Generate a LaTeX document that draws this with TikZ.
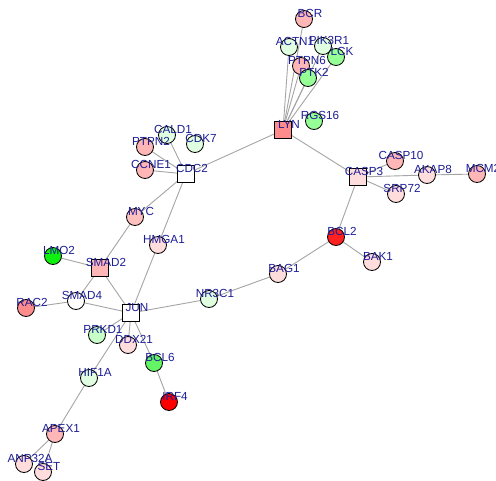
\documentclass[tikz,border=0pt]{standalone}
\usepackage{fontspec}
\setmainfont{Liberation Sans}
\pgfdeclarelayer{background}
\pgfsetlayers{background,main}
\definecolor{lblcol}{RGB}{30,30,150}
\definecolor{edgecol}{RGB}{165,165,165}
\definecolor{pinkA}{RGB}{255,182,182}
\definecolor{pinkB}{RGB}{255,221,221}
\definecolor{pinkC}{RGB}{255,192,192}
\definecolor{salmon}{RGB}{255,140,140}
\definecolor{redA}{RGB}{255,32,32}
\definecolor{redB}{RGB}{255,0,0}
\definecolor{greenA}{RGB}{224,255,224}
\definecolor{greenB}{RGB}{200,255,200}
\definecolor{greenC}{RGB}{150,255,150}
\definecolor{greenD}{RGB}{100,245,100}
\definecolor{greenE}{RGB}{16,240,16}
\tikzset{
  cnode/.style={circle,draw=black,line width=0.8pt,minimum size=17pt,inner sep=0pt},
  snode/.style={rectangle,draw=black,line width=0.8pt,minimum size=17.5pt,inner sep=0pt},
  lbl/.style={text=lblcol,font=\fontsize{11.7pt}{12pt}\selectfont,inner sep=0pt,anchor=center},
  edge/.style={draw=edgecol,line width=0.9pt}
}
\begin{document}
\begin{tikzpicture}[x=1pt,y=-1pt]
\useasboundingbox (0,0) rectangle (496,481);
\foreach \n/\x/\y/\s/\c in {
  BCR/304/19/cnode/pinkA,
  ACTN1/289/47/cnode/greenA,
  PIK3R1/323/46/cnode/greenA,
  LCK/336/57/cnode/greenC,
  PTPN6/301/66/cnode/pinkA,
  PTK2/308/78/cnode/greenC,
  RGS16/314/121/cnode/greenC,
  LYN/283/130/snode/salmon,
  CALD1/167/135/cnode/greenA,
  PTPN2/145/147/cnode/pinkA,
  CDK7/195/144/cnode/greenA,
  CCNE1/145/170/cnode/pinkA,
  CDC2/186/174/snode/white,
  CASP10/395/161/cnode/pinkA,
  CASP3/358/177/snode/pinkB,
  AKAP8/427/175/cnode/pinkB,
  MCM2/477/174/cnode/pinkA,
  SRP72/396/194/cnode/pinkB,
  BCL2/336/237/cnode/redA,
  BAK1/372/262/cnode/pinkB,
  MYC/135/217/cnode/pinkC,
  HMGA1/158/245/cnode/pinkB,
  LMO2/53/256/cnode/greenE,
  SMAD2/100/268/snode/pinkA,
  SMAD4/76/301/cnode/white,
  RAC2/26/308/cnode/salmon,
  JUN/131/313/snode/white,
  BAG1/278/274/cnode/pinkB,
  NR3C1/209/299/cnode/greenA,
  PRKD1/97/335/cnode/greenB,
  DDX21/128/345/cnode/pinkB,
  BCL6/154/363/cnode/greenD,
  IRF4/169/402/cnode/redB,
  HIF1A/89/378/cnode/greenA,
  APEX1/55/434/cnode/pinkA,
  ANP32A/24/464/cnode/pinkB,
  SET/43/472/cnode/pinkB}
  {\node[\s,fill=\c] (\n) at (\x,\y) {};}
\begin{pgfonlayer}{background}
\fill[white] (0,0) rectangle (496,481);
\foreach \a/\b in {LYN/BCR,LYN/ACTN1,LYN/PIK3R1,LYN/LCK,LYN/PTPN6,LYN/PTK2,
  LYN/CDC2,LYN/CASP3,CDC2/CALD1,CDC2/PTPN2,CDC2/CCNE1,CDC2/MYC,CDC2/HMGA1,
  HMGA1/JUN,MYC/SMAD2,SMAD2/LMO2,SMAD2/SMAD4,SMAD2/JUN,SMAD4/RAC2,SMAD4/JUN,
  JUN/NR3C1,NR3C1/BAG1,BAG1/BCL2,BCL2/CASP3,BCL2/BAK1,CASP3/CASP10,CASP3/AKAP8,
  CASP3/SRP72,AKAP8/MCM2,JUN/PRKD1,JUN/DDX21,JUN/BCL6,JUN/HIF1A,BCL6/IRF4,
  HIF1A/APEX1,APEX1/ANP32A,APEX1/SET}
  {\draw[edge] (\a.center) -- (\b.center);}
\end{pgfonlayer}
\foreach \n in {BCR,ACTN1,PIK3R1,LCK,PTPN6,PTK2,RGS16,LYN,CALD1,PTPN2,CDK7,CCNE1,
  CDC2,CASP10,CASP3,AKAP8,MCM2,SRP72,BCL2,BAK1,MYC,HMGA1,LMO2,SMAD2,SMAD4,RAC2,
  JUN,BAG1,NR3C1,PRKD1,DDX21,BCL6,IRF4,HIF1A,APEX1,ANP32A,SET}
  {\path (\n.center) ++(6pt,5.5pt) node[lbl] (\n-l) {\n};}
\end{tikzpicture}
\end{document}
